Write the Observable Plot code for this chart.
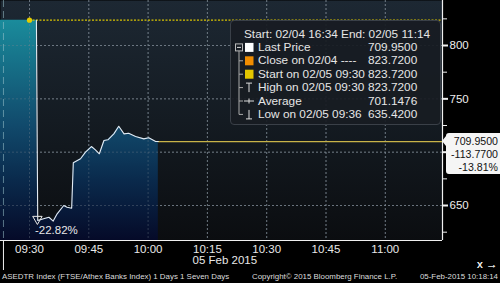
<!DOCTYPE html>
<html><head><meta charset="utf-8">
<script src="https://cdn.jsdelivr.net/npm/d3@7"></script>
<script src="https://cdn.jsdelivr.net/npm/@observablehq/plot@0.6"></script>
<style>
html,body{margin:0;padding:0;background:#000;width:500px;height:283px;overflow:hidden;font-family:"Liberation Sans",Arial,sans-serif;}
#wrap{position:relative;width:500px;height:283px;}
#legend{position:absolute;left:230px;top:20px;width:211px;height:105px;box-sizing:border-box;background:rgba(24,28,34,0.93);border:1px solid #3a4048;border-radius:4px;color:#e6e6e6;font-size:11.8px;}
#legend .row{position:absolute;left:0;height:13px;line-height:13px;white-space:nowrap;}
#footer{position:absolute;left:0;top:270px;width:500px;height:13px;color:#dcdcdc;font-size:7.9px;}
#footer span{position:absolute;top:2px;white-space:nowrap;}
</style></head><body><div id="wrap"><div id="chart"></div></div>
<script>
// ---------- data ----------
const day = "2015-02-05";
const priorTimes = ["09:22:40", "09:31:45"];
const priorValues = [823.72, 823.72];
const times = ["09:31:45","09:32:05","09:34:00","09:34:55","09:36:00","09:37:00","09:38:40","09:39:30","09:40:40","09:41:05","09:42:55","09:44:10","09:45:40","09:46:40","09:47:40","09:48:50","09:49:50","09:51:20","09:52:35","09:53:55","09:55:05","09:56:50","09:58:55","10:00:10","10:01:55","10:02:35"];
const values = [823.72,635.9,638.1,639.0,635.42,642.2,650.0,648.4,647.5,690.0,693.8,700.0,705.3,702.2,698.5,710.9,711.6,717.2,724.3,717.2,717.8,714.7,712.5,713.5,710.0,709.95];
const xDomain = ["09:22:40", "11:14:28"];
const yDomain = [617.2, 842.2];
const xTicks = ["09:30","09:45","10:00","10:15","10:30","10:45","11:00"];
const yTicks = [650, 700, 750, 800];
const yMinorTicks = [625, 675, 725, 775, 825];
const separatorTime = "09:23:25";
const prevClose = 823.72;
const startTime = "09:30";
const startValue = 823.72;
const lowMarkTime = "09:32:00";
const lowValue = 635.42;
const lowLabel = "-22.82%";
const lastPrice = 709.95;
const boxLines = ["709.9500", "-113.7700", "-13.81%"];
const dateLabelTime = "10:11:15";
const dateLabel = "05 Feb 2015";
const legendHeader = "Start: 02/04 16:34 End: 02/05 11:14";
const legendLabels = ["Last Price", "Close on 02/04 ----", "Start on 02/05 09:30", "High on 02/05 09:30", "Average", "Low on 02/05 09:36"];
const legendValues = ["709.9500", "823.7200", "823.7200", "823.7200", "701.1476", "635.4200"];
const legendIcons = ["sq:#ffffff", "sq:#f08c00", "sq:#e2c600", "high", "avg", "low"];
const footerTexts = ["ASEDTR Index (FTSE/Athex Banks Index) 1 Days 1 Seven Days", "Copyright\u00a9 2015 Bloomberg Finance L.P.", "05-Feb-2015 10:18:14"];

// ---------- build ----------
const T = s => new Date(`${day}T${s.length === 5 ? s + ":00" : s}`);
const prior = priorTimes.map((t, i) => ({x: T(t), y: priorValues[i]}));
const series = times.map((t, i) => ({x: T(t), y: values[i]}));
const last = series[series.length - 1];
const fmt = d3.timeFormat("%H:%M");
const grid = {stroke: "#7c8791", strokeOpacity: 0.75, strokeDasharray: "2,2"};
// labels hidden behind the last-price box are not drawn
const yFmt = d => Math.abs(d - lastPrice) < 25 ? "" : String(d);

const chart = Plot.plot({
  width: 500, height: 270,
  marginLeft: 0, marginRight: 58, marginTop: 0, marginBottom: 30,
  style: {background: "transparent", color: "#e8e8e8", fontFamily: "Liberation Sans, Arial, sans-serif", fontSize: "11.5px"},
  x: {type: "time", domain: xDomain.map(T)},
  y: {domain: yDomain},
  marks: [
    Plot.frame({fill: "url(#bgGrad)", stroke: null}),
    Plot.ruleX(xTicks.map(T), grid),
    Plot.ruleY(yTicks, grid),
    Plot.areaY(prior, {x: "x", y1: yDomain[0], y2: "y", fill: "url(#areaGrad)"}),
    Plot.areaY(series, {x: "x", y1: yDomain[0], y2: "y", fill: "url(#areaGrad)"}),
    Plot.ruleX(xTicks.map(T), {...grid, strokeOpacity: 0.35}),
    Plot.ruleY(yTicks, {...grid, strokeOpacity: 0.35}),
    Plot.ruleX([T(separatorTime)], {stroke: "#9cc4cc", strokeOpacity: 0.55, strokeDasharray: "7,4"}),
    Plot.ruleY([prevClose], {x1: T(startTime), x2: T(xDomain[1]), stroke: "#d9c400", strokeWidth: 1.2, strokeDasharray: "2,1.5"}),
    Plot.ruleY([lastPrice], {x1: last.x, x2: T(xDomain[1]), stroke: "#c8b348", strokeWidth: 1.2}),
    Plot.line(series, {x: "x", y: "y", stroke: "#e4ecf4", strokeWidth: 1.1}),
    Plot.dot([{x: T(startTime), y: startValue}], {x: "x", y: "y", r: 2.6, fill: "#e6cc00"}),
    Plot.dot([{x: T(lowMarkTime), y: lowValue}], {x: "x", y: "y", symbol: "triangle", rotate: 180, r: 3.5, stroke: "#e8e8e8", strokeWidth: 1, fill: "none", dy: -2}),
    Plot.text([{x: T(lowMarkTime), y: lowValue, t: lowLabel}], {x: "x", y: "y", text: "t", dx: 19, dy: 9, fill: "#e8e8e8", fontSize: 11.5}),
    Plot.ruleY([yDomain[0]], {stroke: "#f0f0f0", strokeWidth: 1.2}),
    Plot.ruleX([T(xDomain[1])], {stroke: "#f0f0f0", strokeWidth: 1.2}),
    Plot.axisX({ticks: xTicks.map(T), tickFormat: fmt, tickSize: 0, tickPadding: 4, fill: "#e8e8e8", fontSize: 11.5}),
    Plot.axisX({ticks: [T(separatorTime)], tickFormat: () => "", tickSize: 30, stroke: "#f0f0f0"}),
    Plot.text([{x: T(dateLabelTime), t: dateLabel}], {x: "x", text: "t", frameAnchor: "bottom", textAnchor: "start", dy: 23, fill: "#e8e8e8", fontSize: 11.5}),
    Plot.axisY({anchor: "right", ticks: yMinorTicks, tickFormat: () => "", tickSize: 4, stroke: "#f0f0f0", label: null}),
    Plot.axisY({anchor: "right", ticks: yTicks, tickFormat: yFmt, tickSize: 5, tickPadding: 2, stroke: "#f0f0f0", strokeWidth: 2, fill: "#eeeeee", fontSize: 11.5, label: null})
  ]
});

const svg = d3.select(chart);
const defs = svg.insert("defs", ":first-child");
const bg = defs.append("linearGradient").attr("id", "bgGrad").attr("gradientUnits", "userSpaceOnUse")
  .attr("x1", 0).attr("x2", 0).attr("y1", 0).attr("y2", 240);
[[0, "#1d2833"], [0.5, "#141b22"], [1, "#0b0d10"]].forEach(([o, c]) => bg.append("stop").attr("offset", o).attr("stop-color", c));
const ag = defs.append("linearGradient").attr("id", "areaGrad").attr("gradientUnits", "userSpaceOnUse")
  .attr("x1", 0).attr("x2", 0).attr("y1", 0).attr("y2", 240);
[[0, "#1d94a4"], [0.08, "#1a8c9c"], [0.52, "#114a6c"], [0.75, "#0a2a4c"], [1, "#050a28"]].forEach(([o, c]) => ag.append("stop").attr("offset", o).attr("stop-color", c));

// value box on the right axis, positioned through the y scale
const yS = chart.scale("y"), xS = chart.scale("x");
const yl = yS.apply(lastPrice);
const xr = xS.apply(T(xDomain[1]));
const bx = xr + 4, bt = yl - 8, bb = yl + 33, br = 500, rr = 3;
svg.append("path")
  .attr("d", `M${xr},${yl} L${bx},${yl - 5} L${bx},${bt + rr} Q${bx},${bt} ${bx + rr},${bt} L${br},${bt} L${br},${bb} L${bx + rr},${bb} Q${bx},${bb} ${bx},${bb - rr} L${bx},${yl + 5} Z`)
  .attr("fill", "#f5f5f5");
boxLines.forEach((s, i) => svg.append("text").attr("x", 498).attr("y", yl + 1 + i * 13)
  .attr("text-anchor", "end").attr("dominant-baseline", "middle")
  .attr("fill", "#111").attr("font-size", "10.6px").attr("font-family", "Liberation Sans, Arial, sans-serif").text(s));

document.getElementById("chart").appendChild(chart);

// legend box
const wrap = document.getElementById("wrap");
const lg = document.createElement("div");
lg.id = "legend";
wrap.appendChild(lg);
const rowY = i => 6.5 + i * 13.4;
const hdr = document.createElement("div");
hdr.className = "row"; hdr.style.left = "13px"; hdr.style.top = rowY(0) + "px"; hdr.textContent = legendHeader;
lg.appendChild(hdr);
const icons = d3.select(lg).append("svg").attr("width", 211).attr("height", 105)
  .style("position", "absolute").style("left", "-1px").style("top", "-1px");
const cy = i => rowY(i + 1) + 7.5;
// tree bracket
icons.append("rect").attr("x", 5.5).attr("y", cy(0) - 3.5).attr("width", 7).attr("height", 7).attr("fill", "none").attr("stroke", "#bbb");
icons.append("line").attr("x1", 7).attr("x2", 11).attr("y1", cy(0)).attr("y2", cy(0)).attr("stroke", "#ddd");
icons.append("line").attr("x1", 9).attr("x2", 9).attr("y1", cy(0) + 3.5).attr("y2", cy(5)).attr("stroke", "#aaa");
for (let i = 1; i < 6; i++) icons.append("line").attr("x1", 9).attr("x2", 13).attr("y1", cy(i)).attr("y2", cy(i)).attr("stroke", "#aaa");
legendIcons.forEach((ic, i) => {
  const y = cy(i);
  if (ic.startsWith("sq:")) {
    icons.append("rect").attr("x", 15).attr("y", y - 4.5).attr("width", 8.5).attr("height", 9).attr("fill", ic.slice(3));
  } else if (ic === "high") {
    icons.append("path").attr("d", `M16,${y - 4.5} H22 M19,${y - 4.5} V${y + 4.5}`).attr("stroke", "#ddd").attr("fill", "none");
  } else if (ic === "avg") {
    icons.append("path").attr("d", `M14,${y} H24 M19,${y - 2.5} V${y + 2.5}`).attr("stroke", "#ddd").attr("fill", "none");
  } else {
    icons.append("path").attr("d", `M16,${y + 4.5} H22 M19,${y - 4.5} V${y + 4.5}`).attr("stroke", "#ddd").attr("fill", "none");
  }
  const lab = document.createElement("div");
  lab.className = "row"; lab.style.left = "27px"; lab.style.top = rowY(i + 1) + "px"; lab.textContent = legendLabels[i];
  lg.appendChild(lab);
  const val = document.createElement("div");
  val.className = "row"; val.style.left = "137px"; val.style.top = rowY(i + 1) + "px"; val.textContent = legendValues[i];
  lg.appendChild(val);
});

// footer
const ft = document.createElement("div");
ft.id = "footer";
footerTexts.forEach((txt, i) => {
  const s = document.createElement("span");
  if (i === 2) s.style.right = "2px"; else s.style.left = (i === 0 ? 2 : 252) + "px";
  s.textContent = txt;
  ft.appendChild(s);
});
wrap.appendChild(ft);
</script></body></html>
